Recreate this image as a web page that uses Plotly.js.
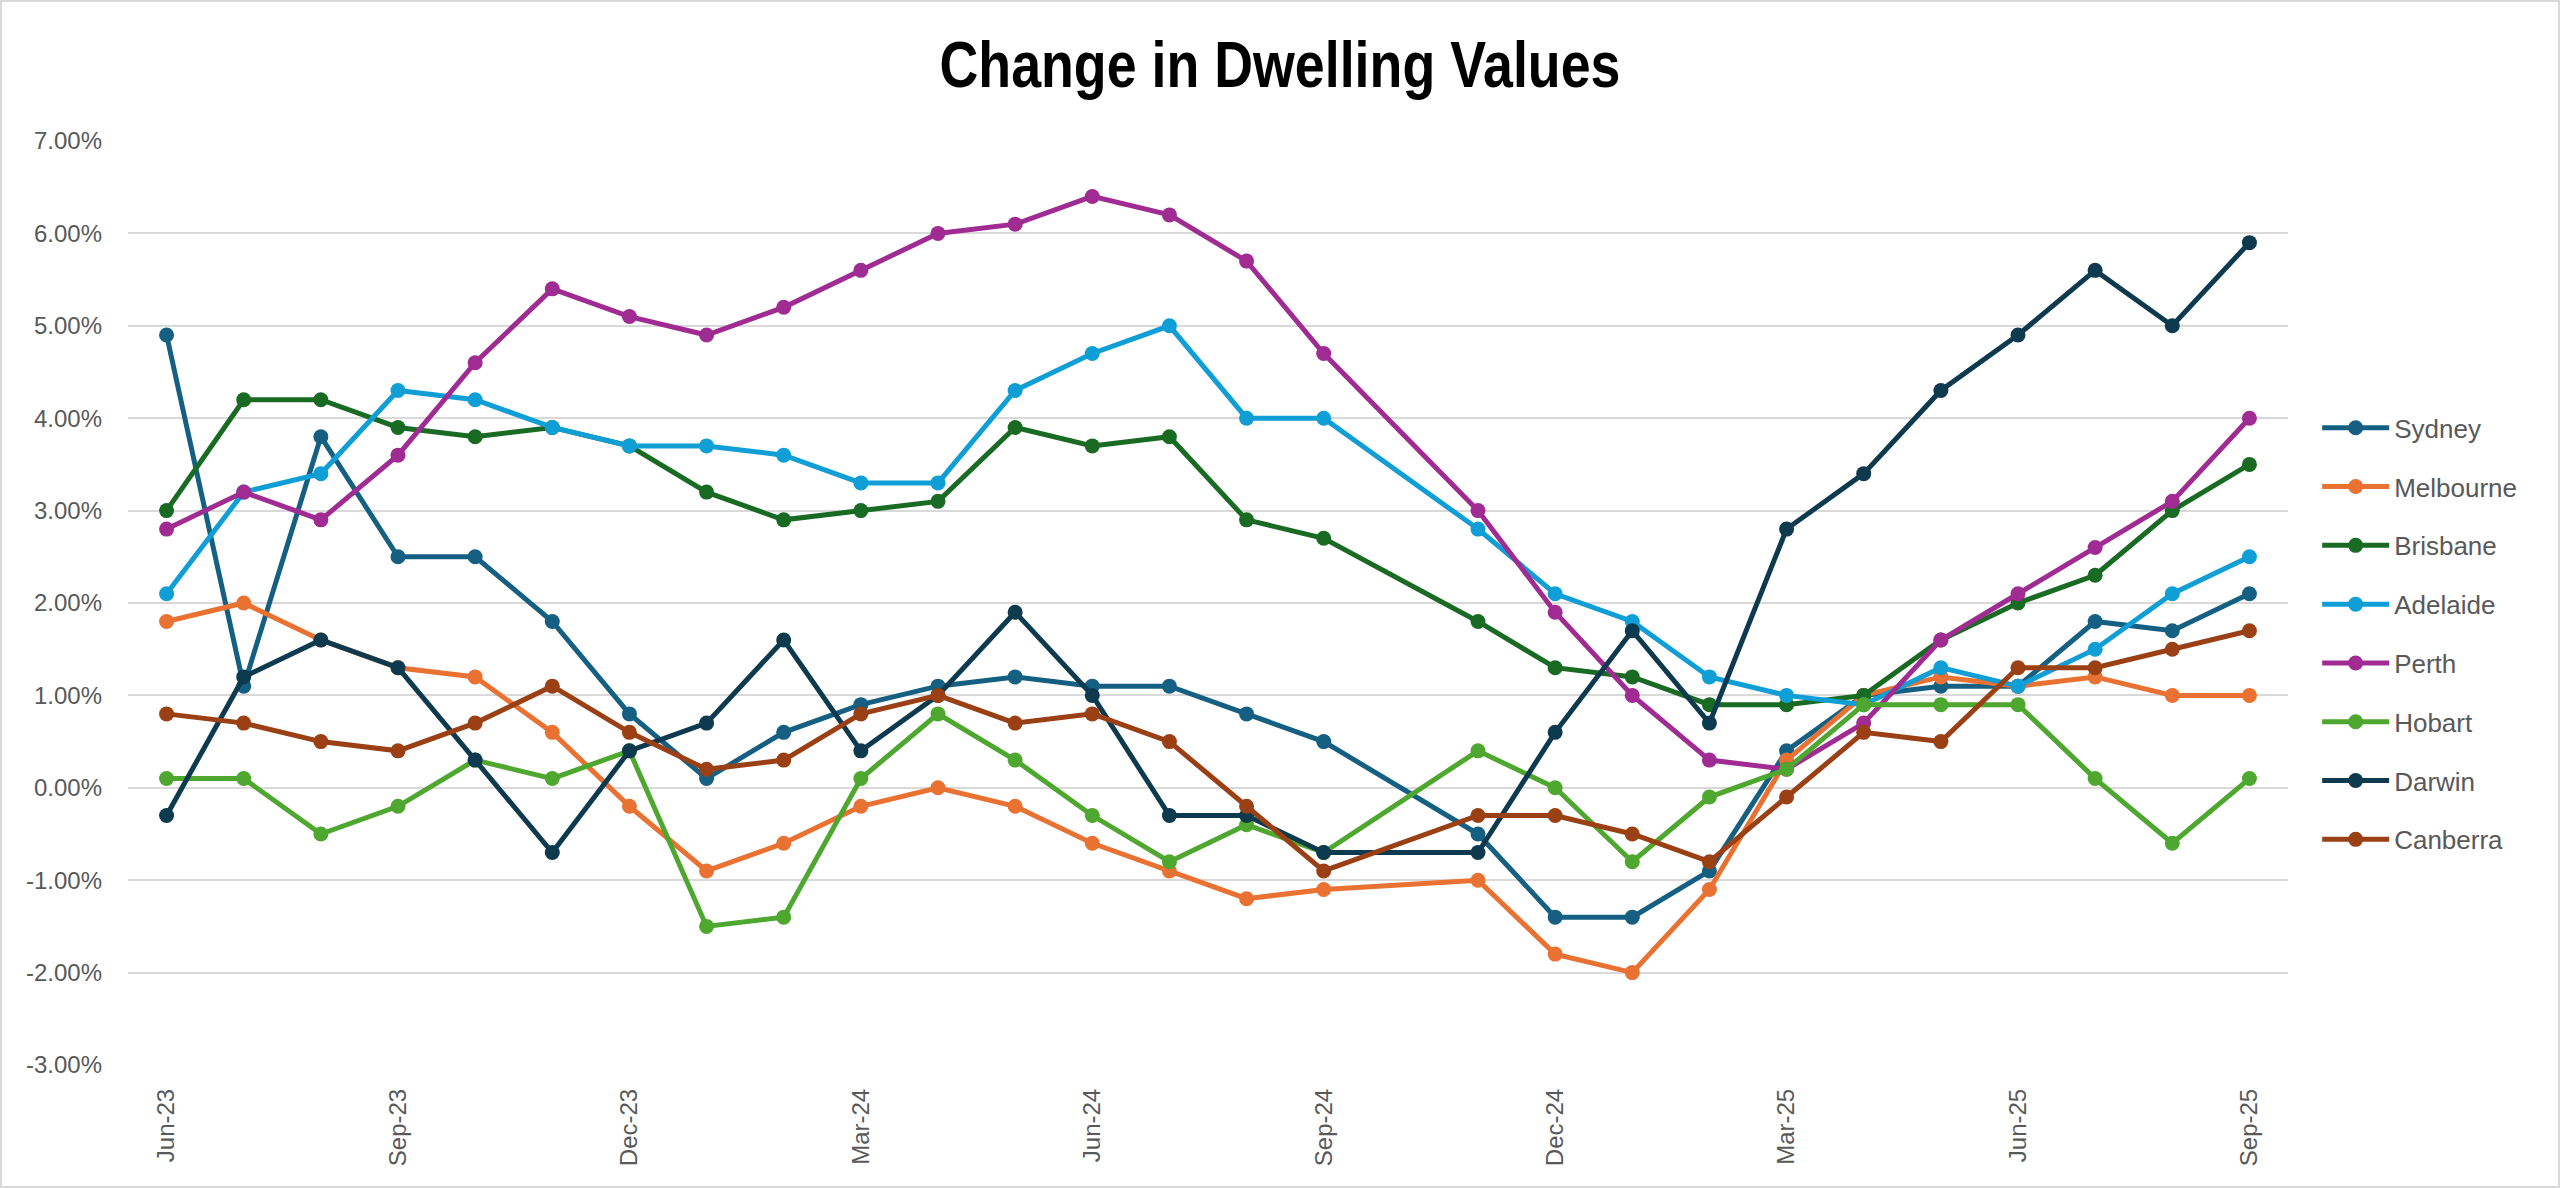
<!DOCTYPE html>
<html>
<head>
<meta charset="utf-8">
<script src="https://cdn.plot.ly/plotly-3.0.1.min.js"></script>
<style>
  html, body { margin: 0; padding: 0; background: #ffffff; }
  #chart { width: 2560px; height: 1188px; box-sizing: border-box; border: 2px solid #d9d9d9; }
</style>
</head>
<body>
<div id="chart"></div>
<script>
const months = ['Jun-23','Jul-23','Aug-23','Sep-23','Oct-23','Nov-23','Dec-23','Jan-24','Feb-24','Mar-24','Apr-24','May-24','Jun-24','Jul-24','Aug-24','Sep-24','Oct-24','Nov-24','Dec-24','Jan-25','Feb-25','Mar-25','Apr-25','May-25','Jun-25','Jul-25','Aug-25','Sep-25'];
const tickLabels = ['Jun-23','Sep-23','Dec-23','Mar-24','Jun-24','Sep-24','Dec-24','Mar-25','Jun-25','Sep-25'];
const yTickValues = [-3, -2, -1, 0, 1, 2, 3, 4, 5, 6, 7];

const sydney    = [4.9, 1.1, 3.8, 2.5, 2.5, 1.8, 0.8, 0.1, 0.6, 0.9, 1.1, 1.2, 1.1, 1.1, 0.8, 0.5, null, -0.5, -1.4, -1.4, -0.9, 0.4, 1.0, 1.1, 1.1, 1.8, 1.7, 2.1];
const melbourne = [1.8, 2.0, 1.6, 1.3, 1.2, 0.6, -0.2, -0.9, -0.6, -0.2, 0.0, -0.2, -0.6, -0.9, -1.2, -1.1, null, -1.0, -1.8, -2.0, -1.1, 0.3, 1.0, 1.2, 1.1, 1.2, 1.0, 1.0];
const brisbane  = [3.0, 4.2, 4.2, 3.9, 3.8, 3.9, 3.7, 3.2, 2.9, 3.0, 3.1, 3.9, 3.7, 3.8, 2.9, 2.7, null, 1.8, 1.3, 1.2, 0.9, 0.9, 1.0, 1.6, 2.0, 2.3, 3.0, 3.5];
const adelaide  = [2.1, 3.2, 3.4, 4.3, 4.2, 3.9, 3.7, 3.7, 3.6, 3.3, 3.3, 4.3, 4.7, 5.0, 4.0, 4.0, null, 2.8, 2.1, 1.8, 1.2, 1.0, 0.9, 1.3, 1.1, 1.5, 2.1, 2.5];
const perth     = [2.8, 3.2, 2.9, 3.6, 4.6, 5.4, 5.1, 4.9, 5.2, 5.6, 6.0, 6.1, 6.4, 6.2, 5.7, 4.7, null, 3.0, 1.9, 1.0, 0.3, 0.2, 0.7, 1.6, 2.1, 2.6, 3.1, 4.0];
const hobart    = [0.1, 0.1, -0.5, -0.2, 0.3, 0.1, 0.4, -1.5, -1.4, 0.1, 0.8, 0.3, -0.3, -0.8, -0.4, -0.7, null, 0.4, 0.0, -0.8, -0.1, 0.2, 0.9, 0.9, 0.9, 0.1, -0.6, 0.1];
const darwin    = [-0.3, 1.2, 1.6, 1.3, 0.3, -0.7, 0.4, 0.7, 1.6, 0.4, 1.0, 1.9, 1.0, -0.3, -0.3, -0.7, null, -0.7, 0.6, 1.7, 0.7, 2.8, 3.4, 4.3, 4.9, 5.6, 5.0, 5.9];
const canberra  = [0.8, 0.7, 0.5, 0.4, 0.7, 1.1, 0.6, 0.2, 0.3, 0.8, 1.0, 0.7, 0.8, 0.5, -0.2, -0.9, null, -0.3, -0.3, -0.5, -0.8, -0.1, 0.6, 0.5, 1.3, 1.3, 1.5, 1.7];

const seriesNames = ['Sydney','Melbourne','Brisbane','Adelaide','Perth','Hobart','Darwin','Canberra'];
const seriesValues = [sydney, melbourne, brisbane, adelaide, perth, hobart, darwin, canberra];
const seriesColors = ['#156082','#E97132','#196B24','#0F9ED5','#A02B93','#4EA72E','#0D3A4F','#9A4014'];

const traces = seriesNames.map((name, i) => ({
  type: 'scatter',
  mode: 'lines+markers',
  name: name,
  legendgroup: name,
  x: months,
  y: seriesValues[i],
  connectgaps: true,
  line: { color: seriesColors[i], width: 5 },
  marker: { color: seriesColors[i], size: 15 },
  hoverinfo: 'skip'
}));

const boundaryTicks = [];
for (let k = 3; k < months.length; k += 3) boundaryTicks.push(k - 0.5);

const font = 'Liberation Sans, Arial, sans-serif';
const layout = {
  width: 2556, height: 1184,
  paper_bgcolor: '#ffffff', plot_bgcolor: '#ffffff',
  margin: { l: 126, r: 270, t: 139, b: 121, pad: 0 },
  title: {
    text: '<b>Change in Dwelling Values</b>',
    font: { family: 'Liberation Sans, Arial, sans-serif', size: 64, color: '#000000' },
    xref: 'container', x: 0.5, xanchor: 'center',
    yref: 'container', y: 1 - 63 / 1184, yanchor: 'middle'
  },
  showlegend: true,
  legend: {
    x: 1.0135, xanchor: 'left', y: 0.715, yanchor: 'top',
    font: { family: font, size: 26, color: '#595959' },
    traceorder: 'grouped', tracegroupgap: 22,
    itemwidth: 67, bgcolor: 'rgba(0,0,0,0)'
  },
  xaxis: {
    type: 'category',
    range: [-0.5, months.length - 0.5],
    tickmode: 'array', tickvals: tickLabels, ticktext: tickLabels,
    tickangle: -90, ticks: '', showgrid: false, showline: false, zeroline: false,
    tickfont: { family: font, size: 24, color: '#595959' },
    ticklabelstandoff: 18
  },
  xaxis2: {
    overlaying: 'x', anchor: 'free', position: 0.3, side: 'bottom',
    range: [-0.5, months.length - 0.5],
    tickmode: 'array', tickvals: boundaryTicks,
    ticks: 'outside', ticklen: 8, tickwidth: 2, tickcolor: '#d9d9d9',
    showticklabels: false, showgrid: false, zeroline: false,
    showline: true, linecolor: '#d9d9d9', linewidth: 2
  },
  yaxis: {
    range: [-3, 7],
    tickmode: 'array', tickvals: yTickValues,
    ticktext: yTickValues.map(v => v.toFixed(2) + '%'),
    showgrid: true, gridcolor: '#d9d9d9', gridwidth: 2,
    zeroline: false, showline: false, ticks: '',
    tickfont: { family: font, size: 24, color: '#595959' },
    ticklabelstandoff: 25
  }
};

Plotly.newPlot('chart', traces, layout, { displayModeBar: false, staticPlot: true }).then(() => {
  const t = document.querySelector('#chart .gtitle');
  if (t) {
    t.style.transformBox = 'fill-box';
    t.style.transformOrigin = 'center';
    t.style.transform = 'scaleX(0.84)';
  }
});
</script>
</body>
</html>
